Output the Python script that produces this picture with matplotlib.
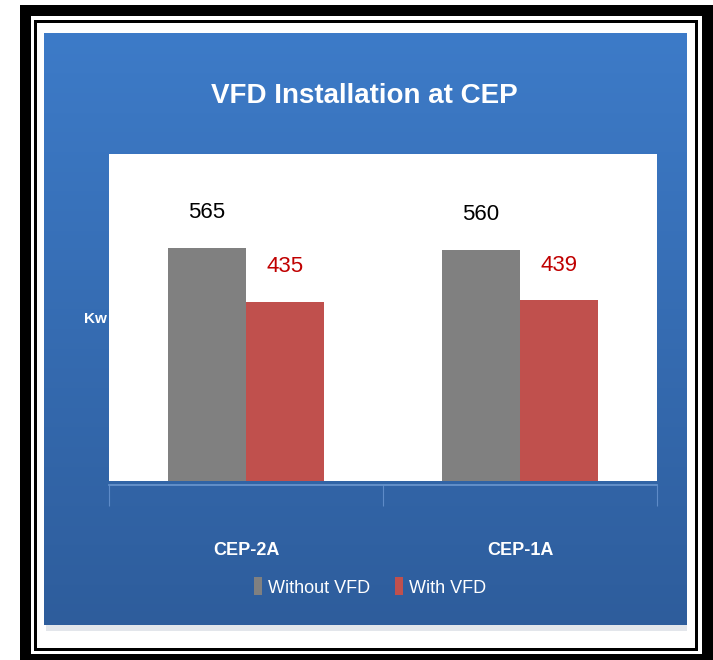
import matplotlib
matplotlib.use("Agg")
import matplotlib.pyplot as plt
from matplotlib.patches import Rectangle
import numpy as np

# chart data
categories = ["CEP-2A", "CEP-1A"]
series_names = ["Without VFD", "With VFD"]
without_vfd = [565, 560]
with_vfd = [435, 439]

W, H = 713, 660
plt.rcParams["font.family"] = ["Liberation Sans", "DejaVu Sans"]

fig = plt.figure(figsize=(W / 100, H / 100), dpi=100)
fig.patch.set_facecolor("white")


def px_box(x0, y0, x1, y1):
    # pixel box (top-left origin) -> figure fraction [left, bottom, width, height]
    return [x0 / W, 1 - y1 / H, (x1 - x0) / W, (y1 - y0) / H]


# shadow under the blue panel
fig.patches.append(Rectangle((46 / W, 1 - 631 / H), 641 / W, 6 / H,
                             transform=fig.transFigure, facecolor="#e3e6eb",
                             edgecolor="none", zorder=0))

# blue gradient panel
bg = fig.add_axes(px_box(44, 33, 687, 625), zorder=0)
top_c = np.array([0x3D, 0x7B, 0xC8]) / 255
bot_c = np.array([0x2E, 0x5D, 0x9C]) / 255
t = np.linspace(0, 1, 256)[:, None]
grad = (top_c * (1 - t) + bot_c * t)[:, None, :]
bg.imshow(grad, aspect="auto", extent=[0, 1, 0, 1])
bg.set_axis_off()

# frame: thick outer black line and thin inner one
fig.patches.append(Rectangle((24.5 / W, 1 - 658.5 / H), 682 / W, 649 / H,
                             transform=fig.transFigure, facecolor="none",
                             edgecolor="black", lw=11 * 0.72, zorder=5))
fig.patches.append(Rectangle((34.5 / W, 1 - 648.5 / H), 661 / W, 628 / H,
                             transform=fig.transFigure, facecolor="none",
                             edgecolor="black", lw=3 * 0.72, zorder=5))

# plot area
ax = fig.add_axes(px_box(109, 154, 657, 481), zorder=2)
ax.set_facecolor("white")
x = np.arange(len(categories))
bw = 0.285
b1 = ax.bar(x - bw / 2, without_vfd, bw, color="#808080", label=series_names[0])
b2 = ax.bar(x + bw / 2, with_vfd, bw, color="#C0504D", label=series_names[1])
ax.set_xlim(-0.5, len(categories) - 0.5)
ax.set_ylim(0, 793)

for rect, v in zip(b1, without_vfd):
    ax.annotate(str(v), (rect.get_x() + rect.get_width() / 2, v),
                xytext=(0, 21.5), textcoords="offset points",
                ha="center", va="baseline", fontsize=16, color="black")
for rect, v in zip(b2, with_vfd):
    ax.annotate(str(v), (rect.get_x() + rect.get_width() / 2, v),
                xytext=(0, 21), textcoords="offset points",
                ha="center", va="baseline", fontsize=16, color="#C00000")

for s in ["top", "left", "right"]:
    ax.spines[s].set_visible(False)
ax.spines["bottom"].set_position(("outward", 3))
ax.spines["bottom"].set_color("#6B97D0")
ax.spines["bottom"].set_linewidth(1.2)
ax.set_yticks([])
ax.set_xticks(x)
ax.set_xticklabels(categories, fontsize=13, fontweight="bold", color="white")
ax.tick_params(axis="x", which="major", length=0, pad=41)
ax.set_xticks(np.arange(-0.5, len(categories)), minor=True)
ax.tick_params(axis="x", which="minor", length=15, width=0.8, color="#5E8BC8")

ax.set_ylabel("Kw", rotation=0, fontsize=11, fontweight="bold", color="white",
              ha="center", va="center")
ax.yaxis.set_label_coords(-14 / 548, (481 - 319) / 327)

fig.text(0.5105, 1 - 103 / H, "VFD Installation at CEP", ha="center",
         va="baseline", fontsize=20, fontweight="bold", color="white")

fig.legend(handles=[b1, b2], labels=series_names, loc="center",
           bbox_to_anchor=(370 / W, 1 - 587 / H), ncol=2, frameon=False,
           fontsize=13, labelcolor="white", handlelength=0.45,
           handleheight=1.15, handletextpad=0.3, columnspacing=1.4)

fig.savefig("out.png", dpi=100, facecolor="white")
